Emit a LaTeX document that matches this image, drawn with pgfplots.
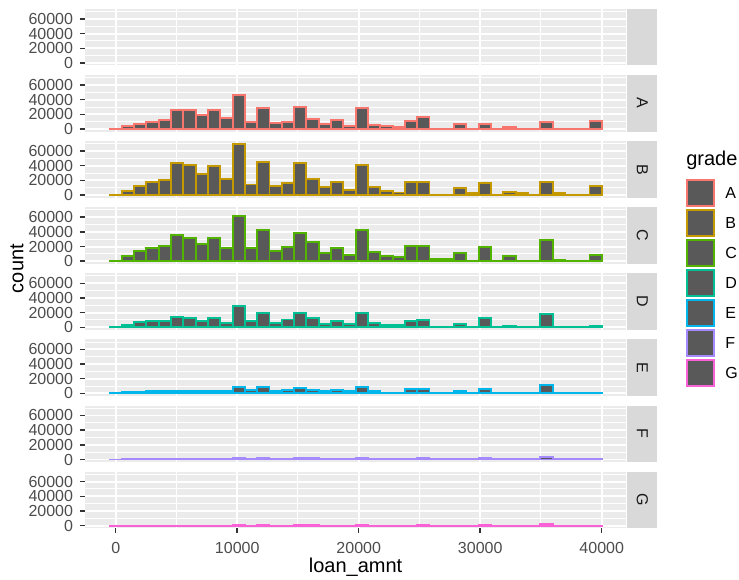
\documentclass[border=0pt]{standalone}
\usepackage{pgfplots}
\pgfplotsset{compat=1.18}
\usepackage{pgfplotstable}
\usepackage{fontspec}
\setmainfont{Liberation Sans}

\definecolor{panelbg}{HTML}{EBEBEB}
\definecolor{stripbg}{HTML}{D9D9D9}
\definecolor{barfill}{HTML}{595959}
\definecolor{ticklab}{HTML}{4D4D4D}
\definecolor{tickcol}{HTML}{333333}
\definecolor{striptext}{HTML}{1A1A1A}
\definecolor{gA}{HTML}{F8766D}
\definecolor{gB}{HTML}{C49A00}
\definecolor{gC}{HTML}{53B400}
\definecolor{gD}{HTML}{00C094}
\definecolor{gE}{HTML}{00B6EB}
\definecolor{gF}{HTML}{A58AFF}
\definecolor{gG}{HTML}{FB61D7}

% histogram counts of loan_amnt by grade, 40 bins of width 1012.8 (bin centres in "mid")
\pgfplotstableread{
mid      A      B      C      D      E      F     G
0        300    300    300    200    100    50    20
1012.8   3700   5500   7200   3300   1800   500   100
2025.6   6900   12700  14000  7000   1800   600   100
3038.4   10000  17700  18000  8800   3200   700   150
4051.2   12400  20000  21200  8800   3200   700   150
5064     26000  43200  35200  14400  3200   800   150
6076.8   26000  41400  32000  12100  3200   800   150
7089.6   18800  28600  23000  8800   3200   800   150
8102.4   26000  39100  32000  12100  3200   800   150
9115.2   15600  21400  17600  6500   3200   700   150
10128    46000  70000  62200  28800  8600   1800  250
11140.8  10000  14500  17600  8800   5000   1000  200
12153.6  28400  45000  42400  20000  8600   1800  250
13166.4  8200   12700  14000  6500   3200   700   150
14179.2  10000  16400  19800  10700  5000   1100  200
15192    30200  43200  38800  20000  7300   1800  250
16204.8  14200  21400  26600  12100  5000   1800  250
17217.6  6400   10500  10800  5100   3200   700   150
18230.4  12400  18200  17600  8800   5000   1000  200
19243.2  4600   7300   9000   5100   3200   700   150
20256    28400  41400  42400  20000  8600   1800  300
21268.8  5500   10900  12600  6500   3600   700   150
22281.6  3700   5500   7200   2800   1200   400   100
23294.4  2300   3600   5400   2800   1200   400   100
24307.2  11500  18200  21200  8400   5500   1100  200
25320    17000  18200  21200  10200  5500   1800  250
26332.8  500    800    2700   500    1000   300   100
27345.6  500    800    2700   500    1000   300   100
28358.4  7300   9100   10800  4600   3600   700   150
29371.2  500    2700   1000   500    1000   300   100
30384    7300   16400  19400  12100  5500   1800  300
31396.8  300    500    1000   300    1000   200   100
32409.6  2700   4100   7200   1400   1000   300   100
33422.4  300    2700   1000   300    1000   200   100
34435.2  300    500    800    300    300    200   100
35448    9200   18200  28400  17700  10900  3700  2300
36460.8  200    2700   1500   300    500    200   100
37473.6  200    300    200    300    300    100   50
38486.4  200    300    200    300    300    100   50
39499.2  11500  12700  9000   1900   500    300   100
}\bins

\pgfplotsset{
  panel/.style={
    scale only axis, width=406.1pt, height=42.375pt,
    anchor=south west,
    xmin=-2532, xmax=42031, ymin=-3500, ymax=73500,
    axis background/.style={fill=panelbg},
    axis line style={draw=none},
    grid=both,
    major grid style={white, line width=1.45pt},
    minor grid style={white, line width=0.73pt},
    xtick={0,10000,20000,30000,40000},
    minor xtick={5000,15000,25000,35000},
    ytick={0,20000,40000,60000},
    minor ytick={10000,30000,50000,70000},
    tick align=outside,
    major tick length=3.74pt, minor tick length=0pt,
    tick style={tickcol, line width=1.1pt},
    xtick pos=left, ytick pos=left,
    scaled ticks=false,
    /pgf/number format/assume math mode=true,
    /pgf/number format/1000 sep={},
    ticklabel style={font=\fontsize{12}{14}\selectfont, text=ticklab, inner sep=0pt},
    yticklabel shift=5pt,
    xticklabel shift=6.4pt,
  },
  inner/.style={panel, xmajorticks=false},
  bars/.style={ybar, bar width=1012.8, bar shift=0pt, fill=barfill, line width=1.45pt},
}

\begin{document}
\begin{tikzpicture}
\fill[white] (0,0) rectangle (554.25pt,435pt);
\useasboundingbox (0,0) rectangle (554.25pt,435pt);

\begin{axis}[inner, name=p0, at={(63.7pt,385.875pt)}]
\end{axis}
\begin{axis}[inner, name=p1, at={(63.7pt,336.3pt)}]
  \addplot[bars, draw=gA] table[x=mid, y=A] {\bins};
\end{axis}
\begin{axis}[inner, name=p2, at={(63.7pt,286.725pt)}]
  \addplot[bars, draw=gB] table[x=mid, y=B] {\bins};
\end{axis}
\begin{axis}[inner, name=p3, at={(63.7pt,237.15pt)}]
  \addplot[bars, draw=gC] table[x=mid, y=C] {\bins};
\end{axis}
\begin{axis}[inner, name=p4, at={(63.7pt,187.575pt)}]
  \addplot[bars, draw=gD] table[x=mid, y=D] {\bins};
\end{axis}
\begin{axis}[inner, name=p5, at={(63.7pt,138pt)}]
  \addplot[bars, draw=gE] table[x=mid, y=E] {\bins};
\end{axis}
\begin{axis}[inner, name=p6, at={(63.7pt,88.425pt)}]
  \addplot[bars, draw=gF] table[x=mid, y=F] {\bins};
\end{axis}
\begin{axis}[panel, name=p7, at={(63.7pt,38.85pt)}]
  \addplot[bars, draw=gG] table[x=mid, y=G] {\bins};
\end{axis}

% facet strips on the right
\foreach \p/\lab in {p0/{},p1/A,p2/B,p3/C,p4/D,p5/E,p6/F,p7/G} {
  \fill[stripbg] ([xshift=0.6pt]\p.south east) rectangle ([xshift=23.2pt]\p.north east);
  \node[rotate=-90, text=striptext, font=\fontsize{12}{14}\selectfont, inner sep=0pt]
    at ([xshift=11.9pt]\p.east) {\lab};
}

% axis titles
\node[rotate=90, font=\fontsize{15}{18}\selectfont] at (12.75pt,233.55pt) {count};
\node[font=\fontsize{15}{18}\selectfont] at (266.7pt,9.75pt) {loan\_amnt};

% legend
\node[anchor=west, font=\fontsize{15}{18}\selectfont, inner sep=0pt] at (514.5pt,314.5pt) {grade};
\foreach \c/\lab [count=\k from 0] in {gA/A,gB/B,gC/C,gD/D,gE/E,gF/F,gG/G} {
  \pgfmathsetmacro\ytop{299.8-22.5*\k}
  \pgfmathsetmacro\ybot{\ytop-19.1}
  \pgfmathsetmacro\ymid{\ytop-9.55}
  \draw[fill=barfill, draw=\c, line width=1.45pt] (515.2pt,\ytop pt) rectangle (535.5pt,\ybot pt);
  \node[anchor=west, font=\fontsize{12}{14}\selectfont, inner sep=0pt] at (543.75pt,\ymid pt) {\lab};
}
\end{tikzpicture}
\end{document}
